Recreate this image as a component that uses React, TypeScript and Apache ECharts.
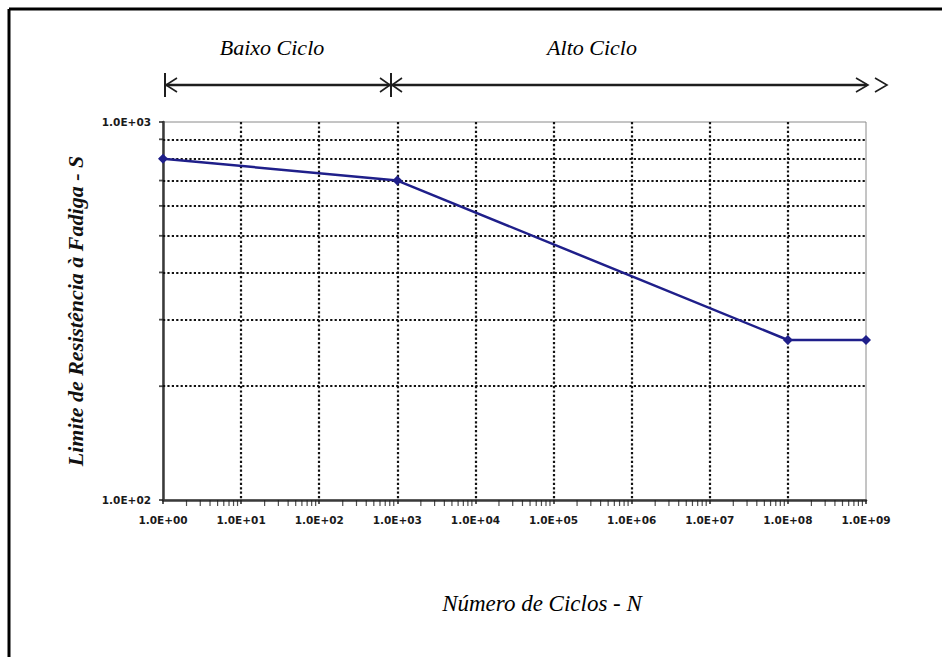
import React, { useEffect, useRef } from "react";
import * as echarts from "echarts";

// ---- data ----
const cycles = [1, 1e3, 1e8, 1e9];
const strength = [800, 700, 265, 265];
const yGridValues = [200, 300, 400, 500, 600, 700, 800, 900];
const minorMantissas = [2, 3, 4, 5, 6, 7, 8, 9];
const decades = [0, 1, 2, 3, 4, 5, 6, 7, 8];
const xAxisTitle = "Número de Ciclos - N";
const yAxisTitle = "Limite de Resistência à Fadiga - S";
const phaseLabels = ["Baixo Ciclo", "Alto Ciclo"];

function sci(v: number): string {
  const e = Math.round(Math.log10(v));
  return "1.0E+" + (e < 10 ? "0" : "") + e;
}

export default function App() {
  const ref = useRef<HTMLDivElement>(null);
  useEffect(() => {
    if (!ref.current) return;
    const chart = echarts.init(ref.current, undefined, { renderer: "svg" });

    const xMinor: number[][] = [];
    decades.forEach((d) =>
      minorMantissas.forEach((m) => xMinor.push([m * Math.pow(10, d), 100]))
    );
    const yMinor = yGridValues.map((v) => [1, v]);

    const dotted = { type: [2.2, 2.2] as any, color: "#111", width: 2.2 };
    const axisText = {
      fontFamily: "DejaVu Sans",
      fontWeight: "bold" as const,
      fontSize: 10.5,
      color: "#1a1a1a",
    };
    const ink = "#1e1e1e";
    const arrowY = 85;
    const serifItalic = {
      fontFamily: "Liberation Serif",
      fontStyle: "italic" as const,
      fontSize: 22,
      fill: "#000",
      align: "center" as const,
      verticalAlign: "middle" as const,
    };

    chart.setOption({
      animation: false,
      backgroundColor: "#ffffff",
      grid: {
        left: 163,
        right: 76,
        top: 122,
        bottom: 157,
        show: true,
        borderColor: "#8a8a8a",
        borderWidth: 1,
        backgroundColor: "transparent",
      },
      xAxis: {
        type: "log",
        logBase: 10,
        min: 1,
        max: 1e9,
        axisLine: { show: true, lineStyle: { color: "#3a3a3a", width: 2.5 } },
        axisTick: { show: true, length: 4, lineStyle: { color: "#222", width: 1.5 } },
        axisLabel: { ...axisText, margin: 14, formatter: sci },
        splitLine: {
          show: true,
          showMinLine: false,
          showMaxLine: false,
          lineStyle: dotted,
        },
      },
      yAxis: {
        type: "log",
        logBase: 10,
        min: 100,
        max: 1000,
        name: yAxisTitle,
        nameLocation: "middle",
        nameGap: 77,
        nameTextStyle: {
          fontFamily: "Liberation Serif",
          fontStyle: "italic",
          fontWeight: "bold",
          fontSize: 22,
          color: "#111",
        },
        axisLine: { show: true, lineStyle: { color: "#3a3a3a", width: 2.5 } },
        axisTick: { show: true, length: 4, lineStyle: { color: "#222", width: 1.5 } },
        axisLabel: { ...axisText, margin: 12, formatter: sci },
        splitLine: { show: false },
      },
      series: [
        {
          type: "scatter",
          silent: true,
          clip: false,
          z: 1,
          symbol: "rect",
          symbolSize: [1.2, 6],
          symbolOffset: [0, 3],
          itemStyle: { color: "#222" },
          data: xMinor,
          markLine: {
            silent: true,
            symbol: "none",
            label: { show: false },
            lineStyle: dotted,
            emphasis: { disabled: true },
            data: yGridValues.map((v) => ({ yAxis: v })),
          },
        },
        {
          type: "scatter",
          silent: true,
          clip: false,
          z: 1,
          symbol: "rect",
          symbolSize: [4, 1.8],
          symbolOffset: [-2, 0],
          itemStyle: { color: "#222" },
          data: yMinor,
        },
        {
          type: "line",
          z: 5,
          data: cycles.map((c, i) => [c, strength[i]]),
          symbol: "diamond",
          symbolSize: 10,
          color: "#1f1f8a",
          lineStyle: { color: "#1f1f8a", width: 2.5 },
          itemStyle: { color: "#1f1f8a" },
        },
      ],
      graphic: [
        {
          type: "line",
          shape: { x1: 9, y1: 9, x2: 942, y2: 9 },
          style: { stroke: "#000", lineWidth: 3 },
          silent: true,
        },
        {
          type: "line",
          shape: { x1: 9, y1: 9, x2: 9, y2: 657 },
          style: { stroke: "#000", lineWidth: 3 },
          silent: true,
        },
        {
          type: "text",
          x: 272,
          y: 47,
          style: { ...serifItalic, text: phaseLabels[0] },
        },
        {
          type: "text",
          x: 592,
          y: 47,
          style: { ...serifItalic, text: phaseLabels[1] },
        },
        {
          type: "text",
          x: 542,
          y: 603,
          style: { ...serifItalic, fontSize: 23, text: xAxisTitle },
        },
        {
          type: "line",
          shape: { x1: 165, y1: arrowY, x2: 867, y2: arrowY },
          style: { stroke: ink, lineWidth: 2.5 },
        },
        {
          type: "line",
          shape: { x1: 165, y1: 73, x2: 165, y2: 97 },
          style: { stroke: ink, lineWidth: 2 },
        },
        {
          type: "line",
          shape: { x1: 391, y1: 73, x2: 391, y2: 97 },
          style: { stroke: ink, lineWidth: 2 },
        },
        {
          type: "polyline",
          shape: { points: [[177, 78], [166, arrowY], [177, 92]] },
          style: { stroke: ink, lineWidth: 1.6, fill: "none" },
        },
        {
          type: "polyline",
          shape: { points: [[380, 78], [390, arrowY], [380, 92]] },
          style: { stroke: ink, lineWidth: 1.6, fill: "none" },
        },
        {
          type: "polyline",
          shape: { points: [[402, 78], [392, arrowY], [402, 92]] },
          style: { stroke: ink, lineWidth: 1.6, fill: "none" },
        },
        {
          type: "polyline",
          shape: { points: [[856, 78], [868, arrowY], [856, 92]] },
          style: { stroke: ink, lineWidth: 1.6, fill: "none" },
        },
        {
          type: "polyline",
          shape: { points: [[875, 78], [887, arrowY], [875, 92]] },
          style: { stroke: ink, lineWidth: 1.6, fill: "none" },
        },
      ],
    });

    return () => chart.dispose();
  }, []);

  return (
    <div
      ref={ref}
      style={{ position: "fixed", left: 0, top: 0, width: 942, height: 657 }}
    />
  );
}
